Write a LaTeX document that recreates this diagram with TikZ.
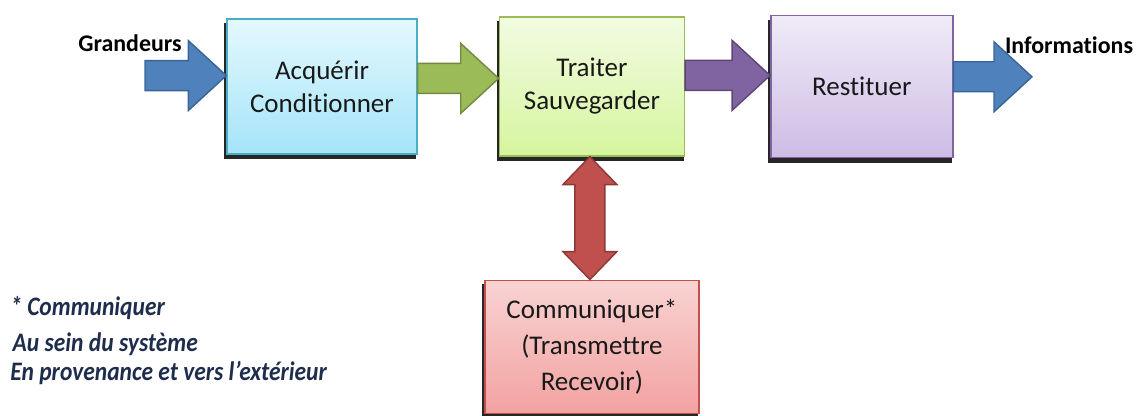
\documentclass[tikz,border=0pt]{standalone}
\usepackage{fontspec}
\setmainfont{Carlito}[Ligatures=NoCommon]
\newfontfamily\notefont{Carlito}[FakeStretch=0.88,Ligatures=NoCommon]
\usetikzlibrary{positioning,calc,shadows}
\definecolor{blueA}{HTML}{4F81BD}
\definecolor{blueB}{HTML}{3A6496}
\definecolor{greenA}{HTML}{9BBB59}
\definecolor{greenB}{HTML}{72893F}
\definecolor{violetA}{HTML}{8064A2}
\definecolor{violetB}{HTML}{5C4776}
\definecolor{redA}{HTML}{C0504D}
\definecolor{redB}{HTML}{8C3836}
\definecolor{acqtop}{HTML}{E4F8FE}
\definecolor{acqbot}{HTML}{A4E4F9}
\definecolor{acqline}{HTML}{4BACC6}
\definecolor{traittop}{HTML}{F2FBE2}
\definecolor{traitbot}{HTML}{D6F59E}
\definecolor{resttop}{HTML}{F0EBF7}
\definecolor{restbot}{HTML}{CDBCE5}
\definecolor{commtop}{HTML}{F8D3D2}
\definecolor{commbot}{HTML}{F2A2A1}
\definecolor{noteblue}{HTML}{1F2D4D}
\tikzset{block node/.style={rectangle,draw,line width=1pt,text=black!90,align=center,
           minimum width=4.75cm,minimum height=3.375cm,font=\fontsize{19.2}{23.5}\selectfont,
           drop shadow={shadow xshift=-0.04cm,shadow yshift=-0.12cm,shadow scale=1.01,opacity=0.85,fill=black}},
         fat arrow/.style={line width=1pt,line join=miter,to path={let \p1=(\tikztostart),\p2=(\tikztotarget) in
           (\x1,\y1+0.375cm) -- (\x2-0.95cm,\y1+0.375cm) -- (\x2-0.95cm,\y1+0.875cm) -- (\x2,\y1)
           -- (\x2-0.95cm,\y1-0.875cm) -- (\x2-0.95cm,\y1-0.375cm) -- (\x1,\y1-0.375cm) -- cycle}},
         fat double arrow/.style={line width=1pt,line join=miter,to path={let \p1=(\tikztostart),\p2=(\tikztotarget) in
           (\x1,\y1) -- (\x1+0.675cm,\y1-0.7cm) -- (\x1+0.375cm,\y1-0.7cm) -- (\x1+0.375cm,\y2+0.7cm)
           -- (\x1+0.675cm,\y2+0.7cm) -- (\x1,\y2) -- (\x1-0.675cm,\y2+0.7cm) -- (\x1-0.375cm,\y2+0.7cm)
           -- (\x1-0.375cm,\y1-0.7cm) -- (\x1-0.675cm,\y1-0.7cm) -- cycle}},
         io label/.style={font=\fontsize{17}{20}\selectfont\bfseries,text=black},}

\begin{document}
\begin{tikzpicture}
       \useasboundingbox (0,0) rectangle (28.6,-10.4);

       \node[block node,top color=acqtop,bottom color=acqbot,draw=acqline] (acq) at (8.05,-2.16) {Acquérir\\Conditionner};
       \node[block node,minimum width=4.625cm,minimum height=3.475cm,top color=traittop,bottom color=traitbot,draw=greenA] (trait) [right = 2.025cm of acq] {Traiter\\Sauvegarder};
       \node[block node,minimum width=4.55cm,minimum height=3.55cm,top color=resttop,bottom color=restbot,draw=violetA] (rest) [right = 2.125cm of trait] {Restituer};
       \node[block node,minimum width=5.35cm,minimum height=3.325cm,top color=commtop,bottom color=commbot,draw=redA,
             font=\fontsize{19.2}{25.6}\selectfont] (comm) [below = 3.075cm of trait] {Communiquer*\\(Transmettre\\Recevoir)};

       \node[io label] (grand) at (3.25,-1.075) {Grandeurs};
       \node[io label] (info) at (26.725,-1.125) {Informations};

       \coordinate (in) at (3.625,-1.89);
       \coordinate (out) at (25.8,-1.89);

       \draw[fat arrow,fill=blueA,draw=blueB] (in) to (acq.west);
       \draw[fat arrow,fill=greenA,draw=greenB] ([yshift=0.2cm]acq.east) to (trait.west);
       \draw[fat arrow,fill=violetA,draw=violetB] ([yshift=0.275cm]trait.east) to (rest.west);
       \draw[fat arrow,fill=blueA,draw=blueB] ([yshift=0.24cm]rest.east) to (out);
       \draw[fat double arrow,fill=redA,draw=redB] ([xshift=-0.05cm]trait.south) to (comm.north);

       % footnote
       \node[anchor=north west,align=left,text=noteblue,font=\notefont\fontsize{19}{24}\selectfont\bfseries\itshape,inner sep=0pt] (note) at (0.25,-7.4)
            {* Communiquer\\[0.05cm]\hspace*{0.06cm}Au sein du système\\[-0.1cm]En provenance et vers l’extérieur};
\end{tikzpicture}
\end{document}
